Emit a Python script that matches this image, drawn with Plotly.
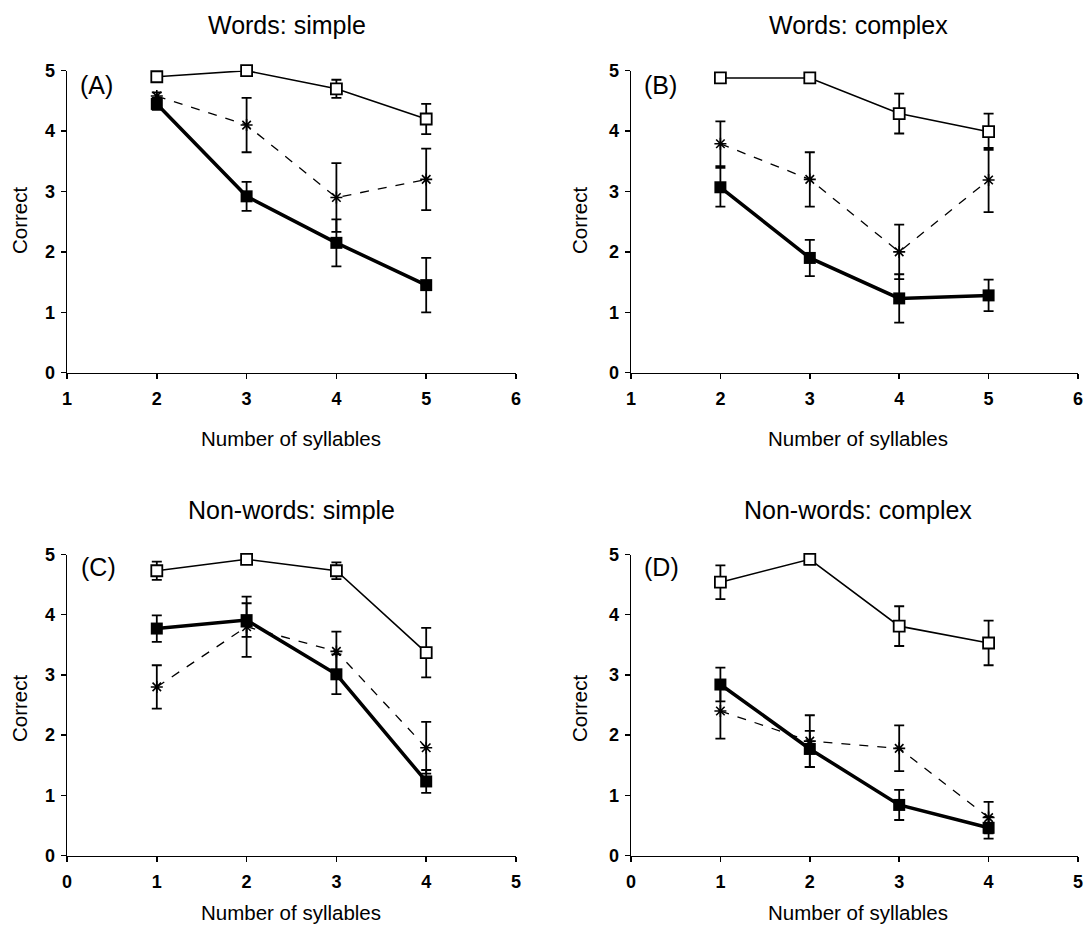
import plotly.graph_objects as go

# ---------------- data ----------------
titles = ["Words: simple", "Words: complex", "Non-words: simple", "Non-words: complex"]
panel_tags = ["(A)", "(B)", "(C)", "(D)"]

x_words = [2, 3, 4, 5]
x_nonwords = [1, 2, 3, 4]

# Panel A
a_open = [4.9, 5.0, 4.7, 4.2]
a_open_err = [0.08, 0.0, 0.15, 0.25]
a_star = [4.58, 4.1, 2.9, 3.2]
a_star_err = [0.06, 0.45, 0.57, 0.51]
a_fill = [4.45, 2.92, 2.15, 1.45]
a_fill_err = [0.1, 0.24, 0.39, 0.45]

# Panel B
b_open = [4.88, 4.88, 4.29, 3.99]
b_open_err = [0.06, 0.06, 0.33, 0.3]
b_star = [3.79, 3.2, 2.0, 3.19]
b_star_err = [0.37, 0.45, 0.45, 0.53]
b_fill = [3.07, 1.9, 1.23, 1.28]
b_fill_err = [0.32, 0.3, 0.4, 0.26]

# Panel C
c_open = [4.73, 4.92, 4.73, 3.37]
c_open_err = [0.15, 0.05, 0.14, 0.41]
c_star = [2.8, 3.8, 3.39, 1.79]
c_star_err = [0.36, 0.5, 0.33, 0.43]
c_fill = [3.77, 3.91, 3.01, 1.23]
c_fill_err = [0.22, 0.28, 0.33, 0.19]

# Panel D
d_open = [4.54, 4.92, 3.81, 3.53]
d_open_err = [0.28, 0.05, 0.33, 0.37]
d_star = [2.4, 1.9, 1.78, 0.63]
d_star_err = [0.46, 0.43, 0.38, 0.26]
d_fill = [2.84, 1.77, 0.84, 0.46]
d_fill_err = [0.28, 0.3, 0.25, 0.18]

y_ticks = [0, 1, 2, 3, 4, 5]
x_ticks_words = [1, 2, 3, 4, 5, 6]
x_ticks_nonwords = [0, 1, 2, 3, 4, 5]

panels = [
    (x_words, a_open, a_open_err, a_star, a_star_err, a_fill, a_fill_err, [1, 6], x_ticks_words),
    (x_words, b_open, b_open_err, b_star, b_star_err, b_fill, b_fill_err, [1, 6], x_ticks_words),
    (x_nonwords, c_open, c_open_err, c_star, c_star_err, c_fill, c_fill_err, [0, 5], x_ticks_nonwords),
    (x_nonwords, d_open, d_open_err, d_star, d_star_err, d_fill, d_fill_err, [0, 5], x_ticks_nonwords),
]

# ---------------- layout geometry ----------------
# body margin is removed in the page (post_script), so the figure fills the window
W, H = 1084, 932


def px(p):
    return p / W


def py(p):
    return 1 - p / H


top_y = [py(372.7), py(70.7)]
bot_y = [py(855.5), py(554.5)]
xdoms = [[px(67), px(516)], [px(631), px(1078)], [px(67), px(516)], [px(631), px(1078)]]
ydoms = [top_y, top_y, bot_y, bot_y]

fig = go.Figure()
FONT = "Liberation Sans, Arial, sans-serif"

for i, (xs, op, ope, st, ste, fi, fie, xr, xt) in enumerate(panels):
    xa = "x" if i == 0 else f"x{i+1}"
    ya = "y" if i == 0 else f"y{i+1}"
    eb = lambda e: dict(type="data", array=e, visible=True, color="black", thickness=1.8, width=5)
    fig.add_trace(go.Scatter(
        x=xs, y=st, error_y=eb(ste), mode="lines+markers", xaxis=xa, yaxis=ya,
        line=dict(color="black", width=1.3, dash="dash"),
        marker=dict(symbol="asterisk-open", size=10, color="black", line=dict(color="black", width=1.6)),
        cliponaxis=False, showlegend=False))
    fig.add_trace(go.Scatter(
        x=xs, y=fi, error_y=eb(fie), mode="lines+markers", xaxis=xa, yaxis=ya,
        line=dict(color="black", width=3.5),
        marker=dict(symbol="square", size=12, color="black"),
        cliponaxis=False, showlegend=False))
    fig.add_trace(go.Scatter(
        x=xs, y=op, error_y=eb(ope), mode="lines+markers", xaxis=xa, yaxis=ya,
        line=dict(color="black", width=1.6),
        marker=dict(symbol="square", size=11, color="white", line=dict(color="black", width=1.8)),
        cliponaxis=False, showlegend=False))

    axis_common = dict(showline=True, linecolor="black", linewidth=1.5, ticks="outside",
                       ticklen=5, tickwidth=1.5, tickcolor="black", showgrid=False, zeroline=False,
                       automargin=False,
                       tickfont=dict(family=FONT, size=18, color="black", weight="bold"))
    xkey = "xaxis" if i == 0 else f"xaxis{i+1}"
    ykey = "yaxis" if i == 0 else f"yaxis{i+1}"
    fig.update_layout(**{
        xkey: dict(domain=xdoms[i], anchor=ya, range=xr, tickvals=xt, ticklabelstandoff=4, **axis_common),
        ykey: dict(domain=ydoms[i], anchor=xa, range=[0, 5], tickvals=y_ticks, ticklabelstandoff=2,
                   **axis_common),
    })

# titles, axis labels, panel tags (window pixel centres)
title_pos = [(287, 25), (858, 25), (291, 510), (858, 510)]
tag_pos = [(96, 85), (660, 85), (98, 567), (661, 567)]
xlabel_pos = [(291, 438), (858, 438), (291, 912), (858, 912)]
ylabel_pos = [(19, 220), (579, 220), (19, 708), (579, 708)]

ann = []
for i in range(4):
    ann.append(dict(text=titles[i], x=px(title_pos[i][0]), y=py(title_pos[i][1]),
                    xref="paper", yref="paper", showarrow=False, xanchor="center", yanchor="middle",
                    font=dict(family=FONT, size=25, color="black")))
    ann.append(dict(text=panel_tags[i], x=px(tag_pos[i][0]), y=py(tag_pos[i][1]),
                    xref="paper", yref="paper", showarrow=False, xanchor="center", yanchor="middle",
                    font=dict(family=FONT, size=25, color="black")))
    ann.append(dict(text="Number of syllables", x=px(xlabel_pos[i][0]), y=py(xlabel_pos[i][1]),
                    xref="paper", yref="paper", showarrow=False, xanchor="center", yanchor="middle",
                    font=dict(family=FONT, size=20.5, color="black")))
    ann.append(dict(text="Correct", x=px(ylabel_pos[i][0]), y=py(ylabel_pos[i][1]),
                    xref="paper", yref="paper", showarrow=False, xanchor="center", yanchor="middle",
                    textangle=-90, font=dict(family=FONT, size=20.5, color="black")))

fig.update_layout(width=W, height=H, margin=dict(l=0, r=0, t=0, b=0, autoexpand=False),
                  paper_bgcolor="white", plot_bgcolor="white", annotations=ann,
                  hovermode=False)

fig.write_html("out.html",
               config={"displayModeBar": False, "staticPlot": True},
               post_script="document.body.style.margin='0';document.body.style.overflow='hidden';")
